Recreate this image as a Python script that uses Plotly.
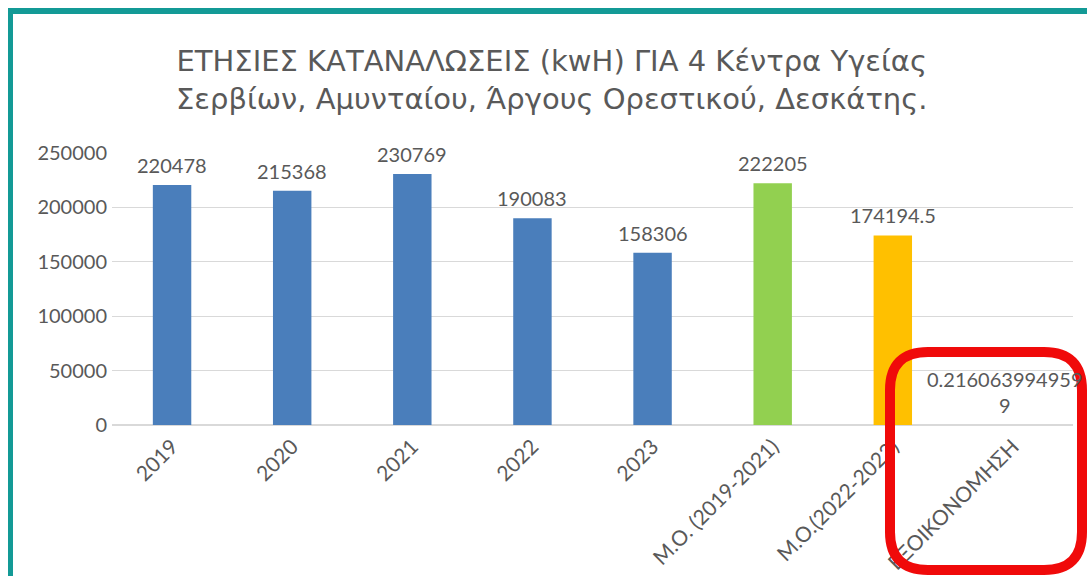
import plotly.graph_objects as go

# Annual consumption data (kWh) for the four health centres
categories = ["2019", "2020", "2021", "2022", "2023",
              "Μ.Ο. (2019-2021)", "Μ.Ο.(2022-2023)", "ΕΞΟΙΚΟΝΟΜΗΣΗ"]
values = [220478, 215368, 230769, 190083, 158306, 222205, 174194.5, 0.2160639949599]
bar_colors = ["#4a7ebb", "#4a7ebb", "#4a7ebb", "#4a7ebb", "#4a7ebb",
              "#92d050", "#ffc000", "#4a7ebb"]
y_ticks = [0, 50000, 100000, 150000, 200000, 250000]

title_lines = ["ΕΤΗΣΙΕΣ ΚΑΤΑΝΑΛΩΣΕΙΣ (kwH) ΓΙΑ 4 Κέντρα Υγείας",
               "Σερβίων, Αμυνταίου, Άργους Ορεστικού, Δεσκάτης."]

W, H = 1087, 576
L, R, T, B = 112, 14, 153, 151
PW, PH = W - L - R, H - T - B
FONT = "Lato, Carlito, Calibri, sans-serif"
TITLE_FONT = "DejaVu Sans, sans-serif"
TXT = "#595959"


def px(x):
    return (x - L) / PW


def py(y):
    return (H - B - y) / PH


def label(v):
    s = repr(float(v))
    if s.endswith(".0"):
        s = s[:-2]
    if len(s) > 14:
        s = s[:14] + "<br>" + s[14:]
    return s


labels = [label(v) for v in values]

fig = go.Figure(go.Bar(
    x=categories, y=values, marker=dict(color=bar_colors, line=dict(width=0)),
    width=0.32, cliponaxis=False,
))

annotations = []
# value labels sitting just above each bar (x given as category index)
for i, (v, t) in enumerate(zip(values, labels)):
    wrapped = "<br>" in t
    annotations.append(dict(x=i, y=v, xref="x", yref="y", text=t,
                            showarrow=False, xanchor="center", yanchor="bottom",
                            yshift=6, xshift=-8 if wrapped else 0, align="center",
                            font=dict(family=FONT, size=20, color=TXT)))

# two-line chart title
annotations.append(dict(text="<br>".join(title_lines), xref="paper", yref="paper",
                        x=px(551), y=py(80), xanchor="center", yanchor="middle",
                        showarrow=False, align="center",
                        font=dict(family=TITLE_FONT, size=29, color=TXT)))

shapes = []
# teal frame (top and left edges)
teal = "#139a96"
shapes.append(dict(type="line", xref="paper", yref="paper",
                   x0=px(10.5), x1=px(10.5), y0=py(8), y1=py(H + 5),
                   line=dict(color=teal, width=5)))
shapes.append(dict(type="line", xref="paper", yref="paper",
                   x0=px(8), x1=px(W + 5), y0=py(11), y1=py(11),
                   line=dict(color=teal, width=6)))

# red rounded highlight box around the savings column
x0, x1, y0, y1, r = 890, 1082, 352, 570, 38


def P(x, y):
    return f"{px(x):.6f},{py(y):.6f}"


path = (f"M {P(x0 + r, y0)} L {P(x1 - r, y0)} Q {P(x1, y0)} {P(x1, y0 + r)} "
        f"L {P(x1, y1 - r)} Q {P(x1, y1)} {P(x1 - r, y1)} "
        f"L {P(x0 + r, y1)} Q {P(x0, y1)} {P(x0, y1 - r)} "
        f"L {P(x0, y0 + r)} Q {P(x0, y0)} {P(x0 + r, y0)} Z")
shapes.append(dict(type="path", xref="paper", yref="paper", path=path,
                   line=dict(color="#f00a0a", width=10), layer="above"))

fig.update_layout(
    width=W, height=H,
    margin=dict(l=L, r=R, t=T, b=B, autoexpand=False),
    paper_bgcolor="white", plot_bgcolor="white",
    showlegend=False,
    shapes=shapes, annotations=annotations,
)
fig.update_xaxes(type="category", range=[-0.5, 7.5], tickangle=-45,
                 tickfont=dict(family=FONT, size=21, color=TXT),
                 showline=True, linecolor="#d9d9d9", linewidth=1,
                 showgrid=False, ticks="", fixedrange=True)
fig.update_yaxes(range=[0, 250000], tickvals=y_ticks,
                 ticktext=[str(v) for v in y_ticks],
                 tickfont=dict(family=FONT, size=20, color=TXT),
                 showgrid=True, gridcolor="#d9d9d9", gridwidth=1,
                 zeroline=True, zerolinecolor="#d9d9d9",
                 showline=False, ticks="", ticklabelstandoff=4, fixedrange=True)

fig.write_html("out.html", config=dict(displayModeBar=False))
